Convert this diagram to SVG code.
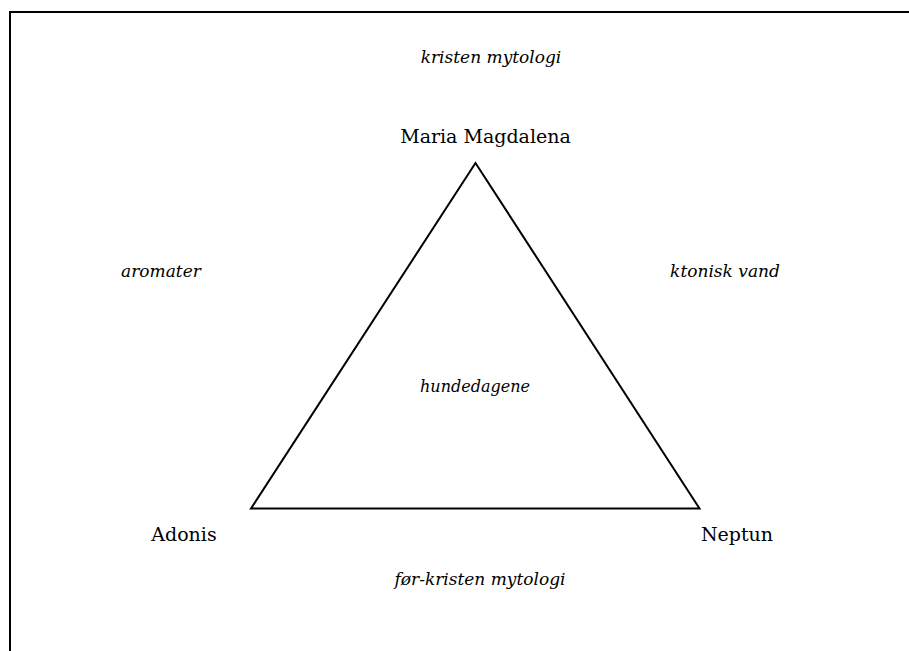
<svg xmlns="http://www.w3.org/2000/svg" width="909" height="651" viewBox="0 0 909 651">
<style>
text{font-family:"DejaVu Serif","Liberation Serif",serif;font-size:19px;fill:#000;text-anchor:middle}
.i{font-style:italic;font-size:17px}
</style>
<rect x="0" y="0" width="909" height="651" fill="#fff"/>
<rect x="10" y="12" width="1000" height="800" fill="none" stroke="#000" stroke-width="2"/>
<g id="connectors">
<polygon points="475.5,163 251,508.5 699.5,508.5" fill="none" stroke="#000" stroke-width="2" stroke-linejoin="miter"/>
</g>
<g id="maria"><text x="485.5" y="143">Maria Magdalena</text></g>
<g id="adonis"><text x="184" y="541">Adonis</text></g>
<g id="neptun"><text x="737" y="541">Neptun</text></g>
<g id="kristen"><text class="i" x="491" y="63">kristen mytologi</text></g>
<g id="aromater"><text class="i" x="161" y="277">aromater</text></g>
<g id="ktonisk"><text class="i" x="725" y="277">ktonisk vand</text></g>
<g id="hundedagene"><text class="i" x="475" y="392" style="font-size:16px">hundedagene</text></g>
<g id="forkristen"><text class="i" x="480" y="585">før-kristen mytologi</text></g>
</svg>
